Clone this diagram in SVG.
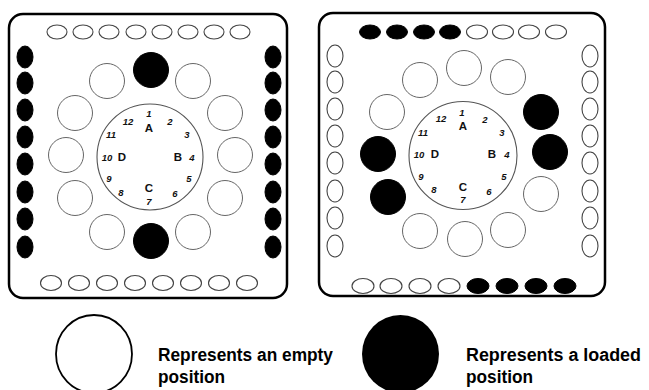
<svg xmlns="http://www.w3.org/2000/svg" width="649" height="390" viewBox="0 0 649 390">
<style>
.frame{fill:#fff;stroke:#000;stroke-width:2.5}
.e{fill:#fff;stroke:#444;stroke-width:1.1}
.f{fill:#000;stroke:#000;stroke-width:1}
.c{fill:#fff;stroke:#666;stroke-width:1}
.hub{fill:#fff;stroke:#555;stroke-width:1.1}
.n{font-family:"Liberation Sans",Arial,sans-serif;font-size:9.5px;font-weight:bold;font-style:italic;fill:#111;text-anchor:middle}
.l{font-family:"Liberation Sans",Arial,sans-serif;font-size:11.5px;font-weight:bold;fill:#111;text-anchor:middle}
.lg{font-family:"Liberation Sans",Arial,sans-serif;font-size:18px;font-weight:bold;fill:#000}
</style>
<rect width="649" height="390" fill="#fff"/>

<g id="panel-left">
<rect class="frame" x="9" y="14" width="278" height="284" rx="14"/>
<g id="left-top-row">
<ellipse class="e" cx="57" cy="32" rx="10" ry="7"/><ellipse class="e" cx="83" cy="32" rx="10" ry="7"/><ellipse class="e" cx="109" cy="32" rx="10" ry="7"/><ellipse class="e" cx="136" cy="32" rx="10" ry="7"/><ellipse class="e" cx="162" cy="32" rx="10" ry="7"/><ellipse class="e" cx="188" cy="32" rx="10" ry="7"/><ellipse class="e" cx="214" cy="32" rx="10" ry="7"/><ellipse class="e" cx="240" cy="32" rx="10" ry="7"/>
</g>
<g id="left-bottom-row">
<ellipse class="e" cx="51" cy="283" rx="10.5" ry="7.5"/><ellipse class="e" cx="79" cy="283" rx="10.5" ry="7.5"/><ellipse class="e" cx="107" cy="283" rx="10.5" ry="7.5"/><ellipse class="e" cx="135" cy="283" rx="10.5" ry="7.5"/><ellipse class="e" cx="163" cy="283" rx="10.5" ry="7.5"/><ellipse class="e" cx="191" cy="283" rx="10.5" ry="7.5"/><ellipse class="e" cx="219" cy="283" rx="10.5" ry="7.5"/><ellipse class="e" cx="247" cy="283" rx="10.5" ry="7.5"/>
</g>
<g id="left-left-col">
<ellipse class="f" cx="25" cy="57" rx="8" ry="11"/><ellipse class="f" cx="25" cy="83" rx="8" ry="11"/><ellipse class="f" cx="25" cy="110" rx="8" ry="11"/><ellipse class="f" cx="25" cy="137" rx="8" ry="11"/><ellipse class="f" cx="25" cy="164" rx="8" ry="11"/><ellipse class="f" cx="25" cy="192" rx="8" ry="11"/><ellipse class="f" cx="25" cy="219" rx="8" ry="11"/><ellipse class="f" cx="25" cy="247" rx="8" ry="11"/>
</g>
<g id="left-right-col">
<ellipse class="f" cx="273" cy="57" rx="8" ry="11"/><ellipse class="f" cx="273" cy="83" rx="8" ry="11"/><ellipse class="f" cx="273" cy="110" rx="8" ry="11"/><ellipse class="f" cx="273" cy="137" rx="8" ry="11"/><ellipse class="f" cx="273" cy="164" rx="8" ry="11"/><ellipse class="f" cx="273" cy="192" rx="8" ry="11"/><ellipse class="f" cx="273" cy="219" rx="8" ry="11"/><ellipse class="f" cx="273" cy="247" rx="8" ry="11"/>
</g>
<g id="left-ring">
<circle class="f" cx="151" cy="70" r="17.5"/>
<circle class="c" cx="107" cy="81" r="17.5"/><circle class="c" cx="193" cy="81" r="17.5"/>
<circle class="c" cx="75" cy="113" r="17.5"/><circle class="c" cx="225" cy="113" r="17.5"/>
<circle class="c" cx="66" cy="155" r="17.5"/><circle class="c" cx="235" cy="155" r="17.5"/>
<circle class="c" cx="75" cy="198" r="17.5"/><circle class="c" cx="225" cy="198" r="17.5"/>
<circle class="c" cx="107" cy="232" r="17.5"/><circle class="c" cx="193" cy="232" r="17.5"/>
<circle class="f" cx="151" cy="241" r="17.5"/>
</g>
<g id="left-hub">
<circle class="hub" cx="150" cy="157" r="53"/>
<text class="n" x="149" y="117.3">1</text>
<text class="n" x="128" y="125.3">12</text>
<text class="n" x="170" y="125.3">2</text>
<text class="l" x="149" y="132">A</text>
<text class="n" x="111" y="138.3">11</text>
<text class="n" x="187" y="138.3">3</text>
<text class="n" x="107" y="161.3">10</text>
<text class="l" x="122" y="161">D</text>
<text class="l" x="178" y="161">B</text>
<text class="n" x="192" y="161.3">4</text>
<text class="n" x="109" y="182.3">9</text>
<text class="n" x="189" y="182.3">5</text>
<text class="l" x="149" y="192">C</text>
<text class="n" x="121" y="196.3">8</text>
<text class="n" x="175" y="197.3">6</text>
<text class="n" x="149" y="205.3">7</text>
</g>
</g>

<g id="panel-right">
<rect class="frame" x="319" y="13" width="286" height="283" rx="14"/>
<g id="right-top-row">
<ellipse class="f" cx="370" cy="32" rx="10.5" ry="7"/><ellipse class="f" cx="397" cy="32" rx="10.5" ry="7"/><ellipse class="f" cx="424" cy="32" rx="10.5" ry="7"/><ellipse class="f" cx="450" cy="32" rx="10.5" ry="7"/><ellipse class="e" cx="477" cy="32" rx="10.5" ry="7"/><ellipse class="e" cx="503" cy="32" rx="10.5" ry="7"/><ellipse class="e" cx="529" cy="32" rx="10.5" ry="7"/><ellipse class="e" cx="556" cy="32" rx="10.5" ry="7"/>
</g>
<g id="right-bottom-row">
<ellipse class="e" cx="363" cy="286" rx="11" ry="7.5"/><ellipse class="e" cx="391" cy="286" rx="11" ry="7.5"/><ellipse class="e" cx="420" cy="286" rx="11" ry="7.5"/><ellipse class="e" cx="449" cy="286" rx="11" ry="7.5"/><ellipse class="f" cx="478" cy="286" rx="11" ry="7.5"/><ellipse class="f" cx="507" cy="286" rx="11" ry="7.5"/><ellipse class="f" cx="536" cy="286" rx="11" ry="7.5"/><ellipse class="f" cx="565" cy="286" rx="11" ry="7.5"/>
</g>
<g id="right-left-col">
<ellipse class="e" cx="335" cy="56" rx="8" ry="11"/><ellipse class="e" cx="335" cy="82" rx="8" ry="11"/><ellipse class="e" cx="335" cy="109" rx="8" ry="11"/><ellipse class="e" cx="335" cy="136" rx="8" ry="11"/><ellipse class="e" cx="335" cy="163" rx="8" ry="11"/><ellipse class="e" cx="335" cy="191" rx="8" ry="11"/><ellipse class="e" cx="335" cy="218" rx="8" ry="11"/><ellipse class="e" cx="335" cy="246" rx="8" ry="11"/>
</g>
<g id="right-right-col">
<ellipse class="e" cx="590" cy="56" rx="8" ry="11"/><ellipse class="e" cx="590" cy="82" rx="8" ry="11"/><ellipse class="e" cx="590" cy="109" rx="8" ry="11"/><ellipse class="e" cx="590" cy="136" rx="8" ry="11"/><ellipse class="e" cx="590" cy="163" rx="8" ry="11"/><ellipse class="e" cx="590" cy="191" rx="8" ry="11"/><ellipse class="e" cx="590" cy="218" rx="8" ry="11"/><ellipse class="e" cx="590" cy="246" rx="8" ry="11"/>
</g>
<g id="right-ring">
<circle class="c" cx="464" cy="68" r="17.5"/>
<circle class="c" cx="420" cy="80" r="17.5"/><circle class="c" cx="508" cy="77" r="17.5"/>
<circle class="c" cx="387" cy="112" r="17.5"/><circle class="f" cx="541" cy="112" r="17.5"/>
<circle class="f" cx="378" cy="154" r="17.5"/><circle class="f" cx="550" cy="152" r="17.5"/>
<circle class="f" cx="388" cy="197" r="17.5"/><circle class="c" cx="541" cy="194" r="17.5"/>
<circle class="c" cx="420" cy="231" r="17.5"/><circle class="c" cx="465" cy="239" r="17.5"/><circle class="c" cx="508" cy="230" r="17.5"/>
</g>
<g id="right-hub">
<circle class="hub" cx="463" cy="155.5" r="54"/>
<text class="n" x="462" y="116.3">1</text>
<text class="n" x="441" y="122.3">12</text>
<text class="n" x="485" y="123.3">2</text>
<text class="l" x="463" y="129.5">A</text>
<text class="n" x="423" y="136.3">11</text>
<text class="n" x="502" y="136.3">3</text>
<text class="n" x="419" y="158.3">10</text>
<text class="l" x="435" y="157.5">D</text>
<text class="l" x="492" y="157.5">B</text>
<text class="n" x="507" y="158.3">4</text>
<text class="n" x="421" y="180.3">9</text>
<text class="n" x="504" y="180.3">5</text>
<text class="l" x="463" y="190.5">C</text>
<text class="n" x="434" y="193.3">8</text>
<text class="n" x="489" y="195.3">6</text>
<text class="n" x="463" y="203.3">7</text>
</g>
</g>

<g id="legend-empty">
<ellipse cx="94" cy="354" rx="38" ry="39" fill="#fff" stroke="#000" stroke-width="1.8"/>
<text class="lg" x="158" y="361" textLength="175" lengthAdjust="spacingAndGlyphs">Represents an empty</text>
<text class="lg" x="158" y="383" textLength="67" lengthAdjust="spacingAndGlyphs">position</text>
</g>
<g id="legend-loaded">
<ellipse cx="400.5" cy="354" rx="38.5" ry="39" fill="#000"/>
<text class="lg" x="466" y="361" textLength="175" lengthAdjust="spacingAndGlyphs">Represents a loaded</text>
<text class="lg" x="466" y="383" textLength="67" lengthAdjust="spacingAndGlyphs">position</text>
</g>
</svg>
